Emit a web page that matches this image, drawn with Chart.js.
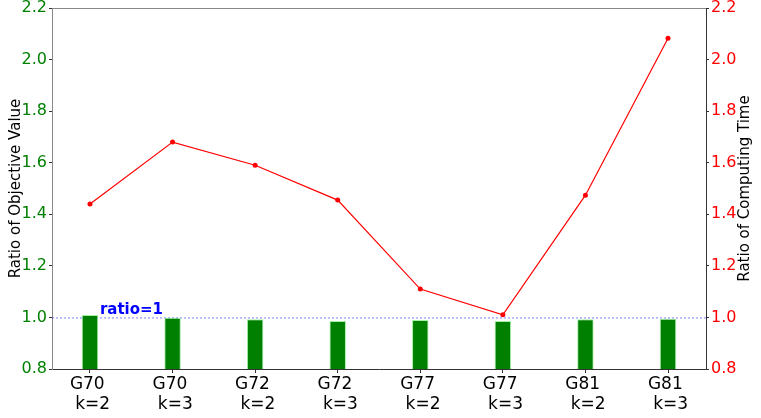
<!DOCTYPE html>
<html>
<head>
<meta charset="utf-8">
<script src="https://cdn.jsdelivr.net/npm/chart.js@4.4.1/dist/chart.umd.min.js"></script>
<style>
  html, body { margin: 0; padding: 0; background: #fff; }
</style>
</head>
<body>
<canvas id="chart" width="761" height="418"></canvas>
<script>
// ---- data ----
const graphs = ['G70', 'G70', 'G72', 'G72', 'G77', 'G77', 'G81', 'G81'];
const kValues = ['k=2', 'k=3', 'k=2', 'k=3', 'k=2', 'k=3', 'k=2', 'k=3'];
const objectiveRatio = [1.009, 0.999, 0.993, 0.986, 0.990, 0.986, 0.993, 0.995];
const timeRatio = [1.44, 1.68, 1.59, 1.455, 1.11, 1.01, 1.474, 2.083];
const yTicks = [0.8, 1.0, 1.2, 1.4, 1.6, 1.8, 2.0, 2.2];
const refRatio = 1.0;
const refLabel = 'ratio=1';
const refLabelX = 0.12;

const FONT = "'DejaVu Sans', sans-serif";

// reference line + label, right axis title, top frame
const extras = {
  id: 'extras',
  beforeDatasetsDraw(chart) {
    const { ctx, chartArea: a, scales } = chart;
    const y = scales.y.getPixelForValue(refRatio);
    ctx.save();
    ctx.strokeStyle = 'rgba(0, 0, 255, 0.5)';
    ctx.lineWidth = 1;
    ctx.setLineDash([2, 2]);
    ctx.beginPath();
    ctx.moveTo(a.left, y + 0.5);
    ctx.lineTo(a.right, y + 0.5);
    ctx.stroke();
    ctx.restore();
  },
  afterDraw(chart) {
    const { ctx, chartArea: a, scales } = chart;
    ctx.save();
    // label
    ctx.fillStyle = '#0000ff';
    ctx.font = 'bold 15px ' + FONT;
    ctx.textAlign = 'left';
    ctx.textBaseline = 'alphabetic';
    ctx.fillText(refLabel, scales.x.getPixelForValue(refLabelX), scales.y.getPixelForValue(refRatio) - 3);
    // top frame
    ctx.strokeStyle = '#888';
    ctx.lineWidth = 1;
    ctx.beginPath();
    ctx.moveTo(a.left, a.top + 0.5);
    ctx.lineTo(a.right, a.top + 0.5);
    ctx.stroke();
    // right axis title, reading bottom to top
    ctx.translate(745, (a.top + a.bottom) / 2);
    ctx.rotate(-Math.PI / 2);
    ctx.fillStyle = '#000';
    ctx.font = '15px ' + FONT;
    ctx.textAlign = 'center';
    ctx.textBaseline = 'middle';
    ctx.fillText('Ratio of Computing Time', 0, 0);
    ctx.restore();
  }
};

const fitY = width => s => {
  s.width = width;
  s.paddingTop = 0;
  s.paddingBottom = 0;
};

new Chart(document.getElementById('chart'), {
  data: {
    datasets: [
      {
        type: 'line',
        label: 'Ratio of Computing Time',
        data: timeRatio.map((v, i) => ({ x: i, y: v })),
        yAxisID: 'y1',
        borderColor: '#ff0000',
        backgroundColor: '#ff0000',
        borderWidth: 1.2,
        pointRadius: 2.5,
        pointBorderWidth: 0,
        pointBackgroundColor: '#ff0000',
        tension: 0,
        order: 0
      },
      {
        type: 'bar',
        label: 'Ratio of Objective Value',
        data: objectiveRatio.map((v, i) => ({ x: i, y: v })),
        yAxisID: 'y',
        backgroundColor: '#008000',
        borderColor: 'rgba(144, 238, 144, 0.8)',
        borderWidth: { left: 1, right: 1, top: 1, bottom: 0 },
        barPercentage: 0.2,
        categoryPercentage: 1.0,
        order: 1
      }
    ]
  },
  options: {
    responsive: false,
    animation: false,
    layout: { padding: { top: 8, left: 0, right: 0, bottom: 0 } },
    plugins: { legend: { display: false }, tooltip: { enabled: false } },
    scales: {
      x: {
        type: 'linear',
        offset: false,
        min: -0.46,
        max: 7.46,
        afterBuildTicks: s => { s.ticks = graphs.map((_, i) => ({ value: i })); },
        afterFit: s => { s.height = 49; s.paddingLeft = 0; s.paddingRight = 0; },
        ticks: {
          color: '#000',
          font: { family: FONT, size: 17 },
          padding: 1,
          maxRotation: 0,
          autoSkip: false,
          callback: v => [graphs[v] + ' ', ' ' + kValues[v]]
        },
        grid: { offset: false, drawOnChartArea: false, drawTicks: true, tickLength: 4, color: '#333' },
        border: { display: true, color: '#333' }
      },
      y: {
        position: 'left',
        min: 0.8,
        max: 2.2,
        afterBuildTicks: s => { s.ticks = yTicks.map(v => ({ value: v })); },
        afterFit: fitY(52),
        ticks: {
          color: '#008000',
          font: { family: FONT, size: 16, lineHeight: 1 },
          padding: 2,
          callback: v => v.toFixed(1)
        },
        title: {
          display: true,
          text: 'Ratio of Objective Value',
          color: '#000',
          font: { family: FONT, size: 15 },
          padding: { top: 7, bottom: 0 }
        },
        grid: { drawOnChartArea: false, drawTicks: true, tickLength: 3, color: '#333' },
        border: { display: true, color: '#888' }
      },
      y1: {
        position: 'right',
        min: 0.8,
        max: 2.2,
        afterBuildTicks: s => { s.ticks = yTicks.map(v => ({ value: v })); },
        afterFit: fitY(55),
        ticks: {
          color: '#ff0000',
          font: { family: FONT, size: 16, lineHeight: 1 },
          padding: 2,
          callback: v => v.toFixed(1)
        },
        grid: { drawOnChartArea: false, drawTicks: true, tickLength: 3, color: '#333' },
        border: { display: true, color: '#333' }
      }
    }
  },
  plugins: [extras]
});
</script>
</body>
</html>
